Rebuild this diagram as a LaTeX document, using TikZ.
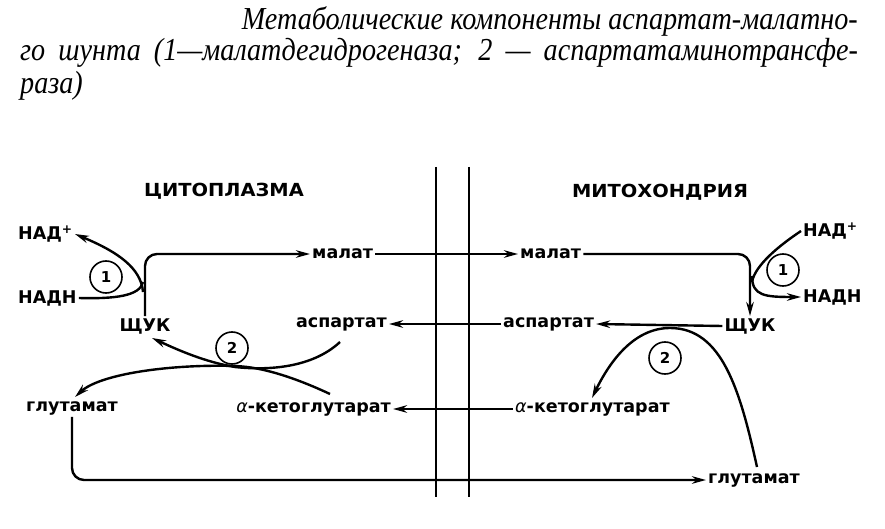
\documentclass[tikz,border=0pt]{standalone}
\usepackage{fontspec}
\usetikzlibrary{arrows.meta}
\newfontfamily\titlefont{Liberation Serif}
\newfontfamily\labfont{DejaVu Sans}
\begin{document}
\begin{tikzpicture}[x=1pt,y=-1pt,
  ttl/.style={font=\titlefont\itshape\fontsize{32}{34}\selectfont, inner sep=0pt, xscale=0.88},
  lab/.style={font=\labfont\bfseries\fontsize{17.5}{19}\selectfont, inner sep=2pt},
  head/.style={font=\labfont\bfseries\fontsize{18}{20}\selectfont, inner sep=0pt, xscale=1.08},
  num/.style={circle, draw, line width=1.6pt, minimum size=32pt, inner sep=0pt, font=\labfont\bfseries\fontsize{15}{17}\selectfont},
  ln/.style={line width=2.4pt},
  arr/.style={ln, -{Stealth[length=14pt,width=7.5pt]}}]
\useasboundingbox (0,0) rectangle (885,529);
\fill[white] (0,0) rectangle (885,529);
% caption
\node[ttl, anchor=base east] (t1) at (858,30) {Метаболические компоненты аспартат-малатно-};
\node[ttl, anchor=base west] (t2) at (20,61) {\hbox to 952pt{го шунта (1—малатдегидрогеназа; 2 — аспартатаминотрансфе-}};
\node[ttl, anchor=base west] (t3) at (20,94) {раза)};
% headings
\node[head] (cyto) at (224,191) {ЦИТОПЛАЗМА};
\node[head] (mito) at (660,192) {МИТОХОНДРИЯ};
% membranes
\coordinate (m1t) at (436,167); \coordinate (m1b) at (436,497);
\coordinate (m2t) at (469,167); \coordinate (m2b) at (469,497);
\draw[ln] (m1t) -- (m1b);
\draw[ln] (m2t) -- (m2b);
% labels
\node[lab, anchor=west] (nadpL) at (16,234) {НАД\textsuperscript{+}};
\node[lab, anchor=west] (nadhL) at (16,298) {НАДН};
\node[lab] (shukL) at (145,326) {ЩУК};
\node[lab, anchor=west] (malL) at (310,254) {малат};
\node[lab, anchor=west] (malR) at (518,254) {малат};
\node[lab] (shukR) at (750,326) {ЩУК};
\node[lab, anchor=west] (nadpR) at (801,231) {НАД\textsuperscript{+}};
\node[lab, anchor=west] (nadhR) at (801,297) {НАДН};
\node[lab, anchor=east] (aspL) at (389,324) {аспартат};
\node[lab, anchor=west] (aspR) at (501,324) {аспартат};
\node[lab, anchor=east] (kgL) at (393,409) {{\mdseries\itshape α}-кетоглутарат};
\node[lab, anchor=west] (kgR) at (513,409) {{\mdseries\itshape α}-кетоглутарат};
\node[lab, anchor=west] (gluL) at (24,408) {глутамат};
\node[lab, anchor=west] (gluR) at (706,480) {глутамат};
% enzyme circles
\node[num] (c1L) at (106,277) {1};
\node[num] (c1R) at (783,270) {1};
\node[num] (c2L) at (232,348) {2};
\node[num] (c2R) at (665,358) {2};
% cytoplasm reaction 1
\draw[arr, rounded corners=12pt] (shukL.north) |- (malL.west);
\draw[ln] (nadhL.east) .. controls (115,299) and (140,296) .. (143,282);
\draw[arr] (143,292) .. controls (141,268) and (118,252) .. (nadpL.east);
% transport
\draw[arr] (malL.east) -- (malR.west);
\draw[arr] (aspR.west) -- (aspL.east);
\draw[arr] (kgR.west) -- (kgL.east);
\draw[arr, rounded corners=12pt] (gluL.south) |- (gluR.west);
% mitochondria reaction 1
\draw[arr, rounded corners=12pt] (malR.east) -| (shukR.north);
\draw[ln] (nadpR.west) .. controls (780,245) and (755,265) .. (752,282);
\draw[arr] (752,276) .. controls (752,296) and (765,297) .. (nadhR.west);
% mitochondria reaction 2
\draw[arr] (shukR.west) -- (aspR.east);
\coordinate (gRtop) at (757,467);
\coordinate (kgRtip) at (592,398);
\draw[arr] (gRtop) .. controls (740,390) and (722,328) .. (670,328) .. controls (632,328) and (608,365) .. (kgRtip);
% cytoplasm reaction 2
\coordinate (aspLs) at (340,342);
\coordinate (shukLt) at (152,338);
\coordinate (kgLs) at (330,394);
\coordinate (gluLt) at (75,397);
\draw[arr] (aspLs) .. controls (310,370) and (262,370) .. (235,367) .. controls (205,362) and (178,350) .. (shukLt);
\draw[arr] (kgLs) .. controls (300,380) and (265,367) .. (235,366) .. controls (170,364) and (100,374) .. (gluLt);
\end{tikzpicture}
\end{document}
